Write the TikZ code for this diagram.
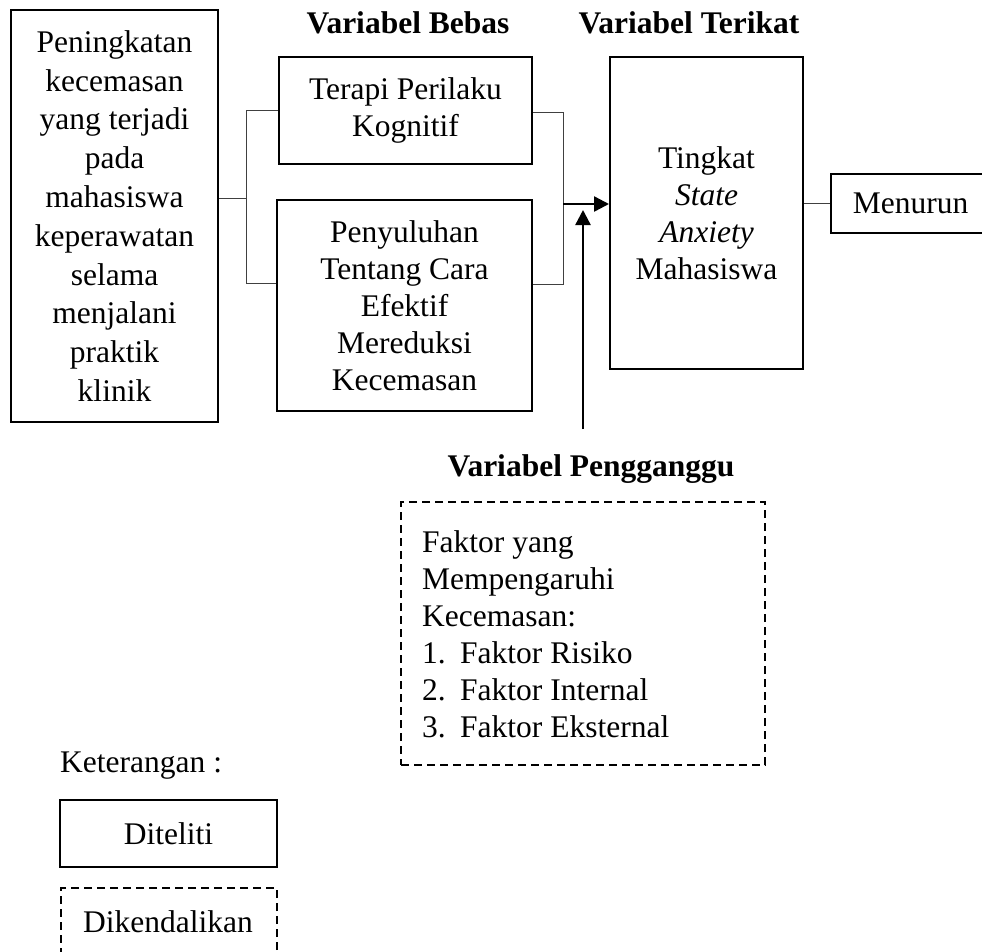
\documentclass[tikz,border=0pt]{standalone}
\usepackage{fontspec}
\setmainfont{Liberation Serif}
\usetikzlibrary{arrows.meta}
\begin{document}
\begin{tikzpicture}[x=1pt,y=-1pt,
  txt/.style={font=\fontsize{31.5}{37}\selectfont},
  box/.style={draw,line width=2pt,align=center,inner sep=0pt,txt},
  dbox/.style={draw,line width=2pt,dash pattern=on 8pt off 5pt,inner sep=0pt},
  conn/.style={line width=1pt,draw=black!75},
  arr/.style={line width=2.4pt,-{Triangle[length=15pt,width=15pt]}},
  head/.style={font=\fontsize{31.5}{37}\selectfont\bfseries,anchor=base,inner sep=0pt}]
\useasboundingbox (0,0) rectangle (982,951);
\begin{scope}
\clip (0,0) rectangle (982,951);
% main boxes
\node[box,minimum width=207pt,minimum height=412pt,font=\fontsize{31.5}{38.8}\selectfont] (left) at (114.5,216)
  {Peningkatan\\kecemasan\\yang terjadi\\pada\\mahasiswa\\keperawatan\\selama\\menjalani\\praktik\\klinik};
\node[box,minimum width=253pt,minimum height=107pt] (terapi) at (405.5,110.5) {Terapi Perilaku\\Kognitif};
\node[box,minimum width=255pt,minimum height=211pt] (peny) at (404.5,305.5)
  {Penyuluhan\\Tentang Cara\\Efektif\\Mereduksi\\Kecemasan};
\node[box,minimum width=193pt,minimum height=312pt] (tingkat) at (706.5,213)
  {Tingkat\\\textit{State}\\\textit{Anxiety}\\Mahasiswa};
\node[box,minimum width=159pt,minimum height=59pt] (menurun) at (910.5,203.5) {Menurun};
% headings
\node[head] (hbebas) at (408,33) {Variabel Bebas};
\node[head] (hterikat) at (689,33) {Variabel Terikat};
\node[head] (hpeng) at (591,476) {Variabel Pengganggu};
% dashed box
\node[dbox,minimum width=364pt,minimum height=263pt] (pengganggu) at (583,633.5) {};
\node[txt,align=left,anchor=north west,inner sep=0pt] (ptext) at (422,530)
  {Faktor yang\\Mempengaruhi\\Kecemasan:\\\makebox[38pt][l]{1.}Faktor Risiko\\\makebox[38pt][l]{2.}Faktor Internal\\\makebox[38pt][l]{3.}Faktor Eksternal};
% legend
\node[txt,anchor=base west,inner sep=0pt] (ket) at (60,772) {Keterangan :};
\node[box,minimum width=217pt,minimum height=67pt] (diteliti) at (168.5,833.5) {Diteliti};
\node[dbox,txt,minimum width=216pt,minimum height=80pt] (dikendali) at (169,928) {};
\node[txt,inner sep=0pt] (diktext) at (168,922) {Dikendalikan};
% connectors
\coordinate (jl) at (246,198);
\coordinate (jlt) at (246,110);
\coordinate (jlb) at (246,283);
\draw[conn] (left.east |- jl) -- (jl);
\draw[conn] (terapi.west |- jlt) -- (jlt) -- (jlb) -- (peny.west |- jlb);
\coordinate (jrt) at (563,112);
\coordinate (jrb) at (563,284);
\coordinate (jrm) at (563,204);
\draw[conn] (terapi.east |- jrt) -- (jrt) -- (jrb) -- (peny.east |- jrb);
\draw[arr] (jrm) -- (tingkat.west |- jrm);
\coordinate (vb) at (583,429);
\coordinate (vt) at (583,210);
\draw[arr] (vb) -- (vt);
\coordinate (jm) at (817,203);
\draw[conn] (tingkat.east |- jm) -- (menurun.west |- jm);
\end{scope}
\end{tikzpicture}
\end{document}
